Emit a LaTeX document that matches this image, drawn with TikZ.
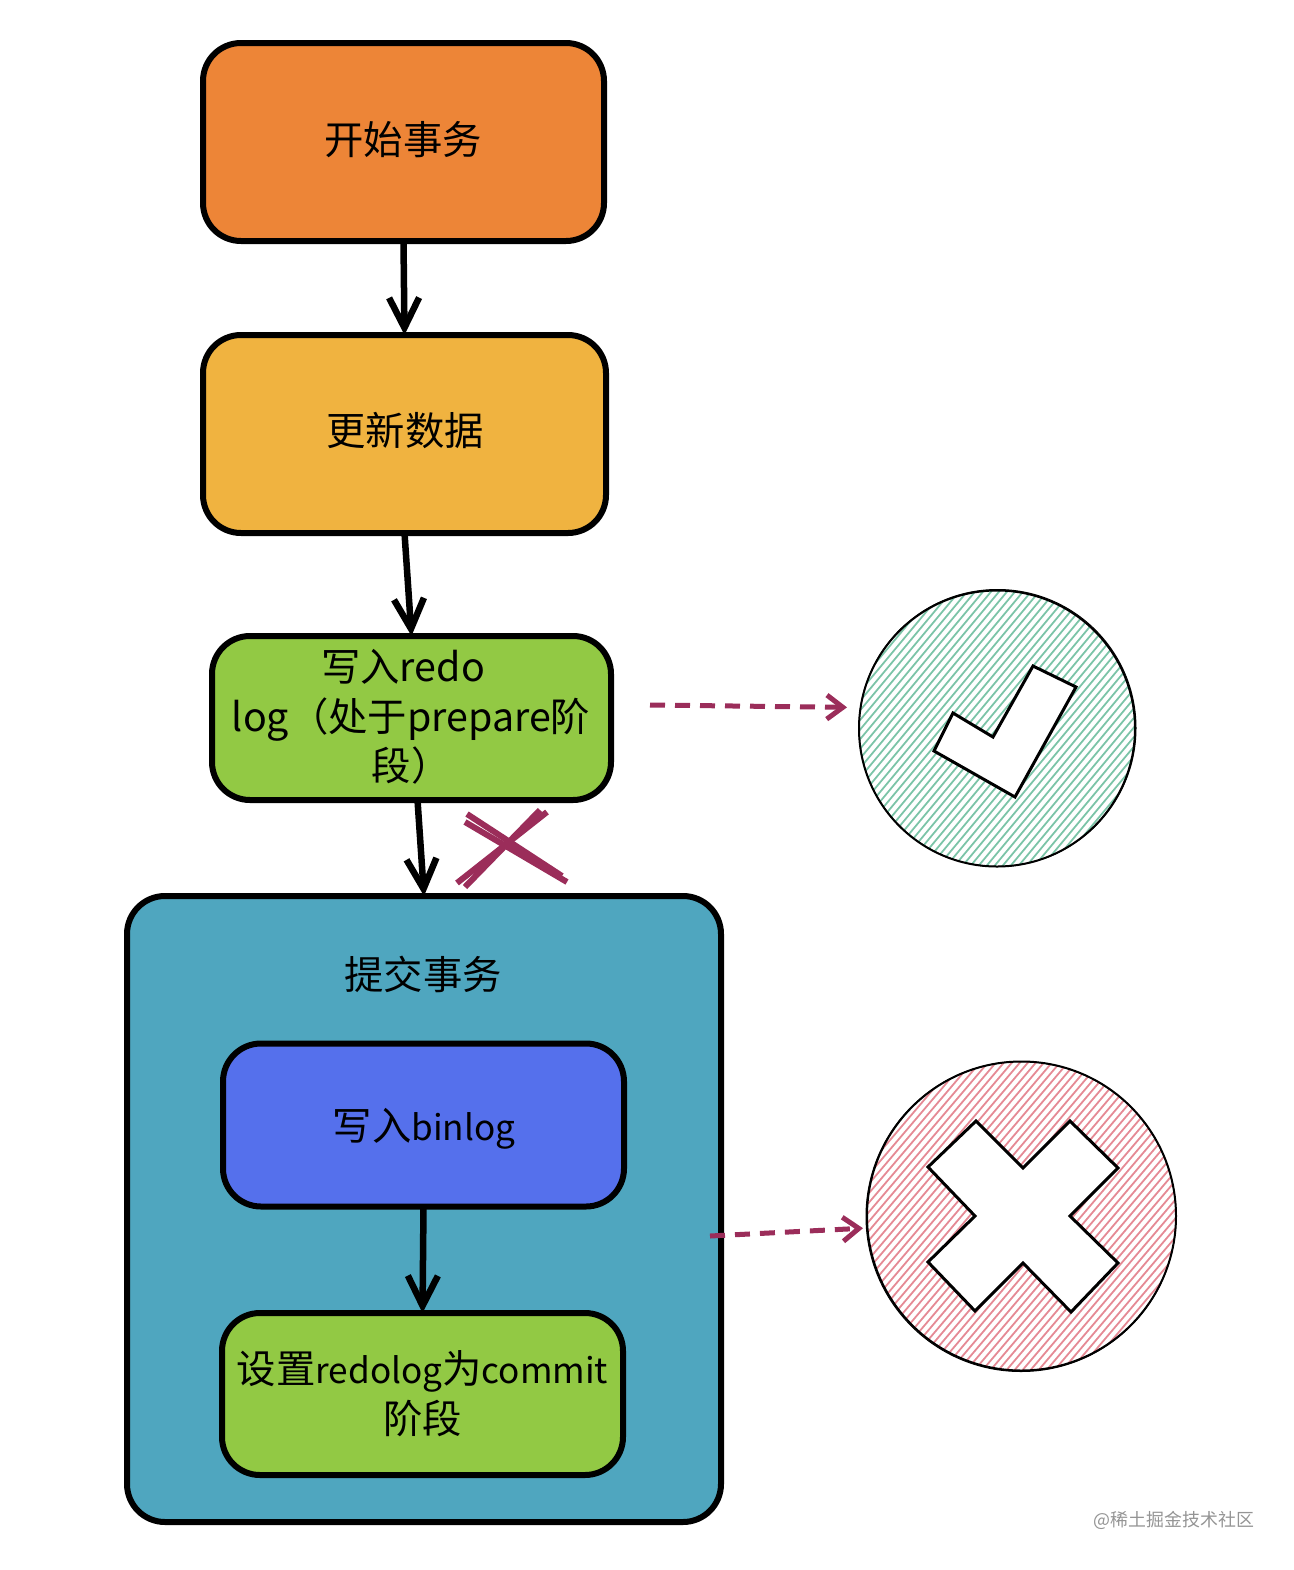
\documentclass[tikz,border=0pt]{standalone}
\usepackage{fontspec}
\setmainfont{Noto Sans CJK SC}
\usetikzlibrary{arrows.meta}
\definecolor{startorange}{HTML}{ED8537}
\definecolor{updateyellow}{HTML}{F0B340}
\definecolor{stepgreen}{HTML}{92C944}
\definecolor{committeal}{HTML}{4FA6BF}
\definecolor{binlogblue}{HTML}{5570EC}
\definecolor{wrongred}{HTML}{9B2D5A}
\definecolor{hatchgreen}{HTML}{7CC4A8}
\definecolor{hatchred}{HTML}{E58A95}
\newcommand{\latin}[1]{{\fontsize{10}{14.2}\selectfont #1}}
\tikzset{
  flowbox/.style={draw=black,line width=0.06cm,rounded corners=0.38cm,inner sep=0pt,outer sep=0pt},
  flowtext/.style={align=center,inner sep=0pt,font=\fontsize{11.2}{14.2}\selectfont},
  flowarrow/.style={line width=0.065cm,-{Straight Barb[length=0.3cm,width=0.3cm,line width=0.065cm]}},
  dasharrow/.style={wrongred,line width=0.05cm,dash pattern=on 0.15cm off 0.1cm,
    -{Straight Barb[length=0.16cm,width=0.24cm,line width=0.05cm]}},
  crossline/.style={wrongred,line width=0.06cm},
  signcircle/.style={circle,draw=black,line width=0.02cm,inner sep=0pt,outer sep=0pt},
  signmark/.style={draw=black,line width=0.03cm,fill=white,line join=miter},
}
\begin{document}
\begin{tikzpicture}
	\useasboundingbox (0,0) rectangle (12.94,-15.70);
	% flow boxes
	\node[flowbox,fill=startorange,minimum width=4.01cm,minimum height=1.98cm] (startbox) at (4.035,-1.42) {};
	\node[flowtext] (starttext) at (4.03,-1.40) {开始事务};
	\node[flowbox,fill=updateyellow,minimum width=4.03cm,minimum height=1.98cm] (updatebox) at (4.045,-4.34) {};
	\node[flowtext] (updatetext) at (4.05,-4.31) {更新数据};
	\node[flowbox,fill=stepgreen,minimum width=3.99cm,minimum height=1.64cm] (redobox) at (4.115,-7.18) {};
	\node[flowtext] (redotext) at (4.11,-7.165) {写入redo\rule{0.16cm}{0pt}\\log（处于prepare阶\\[-0.01cm]段）};
	\node[flowbox,fill=committeal,minimum width=5.94cm,minimum height=6.26cm] (commitbox) at (4.24,-12.09) {};
	\node[flowtext] (committitle) at (4.23,-9.74) {提交事务};
	\node[flowbox,fill=binlogblue,minimum width=4.01cm,minimum height=1.63cm] (binlogbox) at (4.235,-11.25) {};
	\node[flowtext] (binlogtext) at (4.24,-11.29) {写入\latin{binlog}};
	\node[flowbox,fill=stepgreen,minimum width=4.01cm,minimum height=1.62cm] (setbox) at (4.225,-13.94) {};
	\node[flowtext] (settext) at (4.225,-13.94) {设置\latin{redolog}为\latin{commit}\\阶段};
	% connectors
	\draw[flowarrow] (startbox.south) -- (updatebox.north);
	\draw[flowarrow] (updatebox.south) -- (redobox.north);
	\draw[flowarrow] ([xshift=0.06cm]redobox.south) -- (commitbox.north);
	\draw[flowarrow] (binlogbox.south) -- (setbox.north);
	% hatched signs
	\begin{scope}
		\clip (9.97,-7.285) circle (1.38cm);
		\foreach \i in {-2.0,-1.92,...,2.0} \draw[hatchgreen,line width=0.018cm] (9.97+\i-1.5,-7.285-1.8) -- (9.97+\i+1.5,-7.285+1.8);
	\end{scope}
	\begin{scope}
		\clip (10.215,-12.16) circle (1.545cm);
		\foreach \i in {-2.2,-2.12,...,2.2} \draw[hatchred,line width=0.018cm] (10.215+\i-1.7,-12.16-2.0) -- (10.215+\i+1.7,-12.16+2.0);
	\end{scope}
	\node[signcircle,minimum size=2.76cm] (checkcircle) at (9.97,-7.285) {};
	\node[signcircle,minimum size=3.09cm] (xcircle) at (10.215,-12.16) {};
	\draw[line width=0.01cm] (9.975,-7.28) circle (1.385cm);
	\draw[line width=0.01cm] (10.21,-12.165) circle (1.55cm);
	\draw[signmark] (9.53,-7.13) -- (9.93,-7.37) -- (10.33,-6.66) -- (10.76,-6.87) -- (10.15,-7.97) -- (9.34,-7.51) -- cycle;
	\draw[signmark] (9.76,-11.21) -- (10.23,-11.68) -- (10.70,-11.21) -- (11.18,-11.68) -- (10.70,-12.16) -- (11.18,-12.63) -- (10.71,-13.12) -- (10.23,-12.63) -- (9.75,-13.11) -- (9.28,-12.62) -- (9.75,-12.16) -- (9.28,-11.67) -- cycle;
	% dashed arrows
	\coordinate (prepareout) at (6.5,-7.05);
	\coordinate (commitout) at (7.1,-12.36);
	\draw[dasharrow,shorten >=0.12cm] (prepareout) -- ([yshift=0.21cm]checkcircle.west);
	\draw[dasharrow,shorten >=0.04cm] (commitout) -- ([yshift=-0.12cm]xcircle.west);
	% red cross
	\draw[crossline] (4.65,-8.22) -- (5.67,-8.82);
	\draw[crossline] (4.67,-8.14) -- (5.62,-8.76);
	\draw[crossline] (5.47,-8.12) -- (4.57,-8.83);
	\draw[crossline] (5.40,-8.10) -- (4.65,-8.87);
	% watermark
	\node[text=black!42,inner sep=0pt,font=\fontsize{5.1}{6.6}\selectfont] (watermark) at (11.74,-15.20) {@稀土掘金技术社区};
\end{tikzpicture}
\end{document}
